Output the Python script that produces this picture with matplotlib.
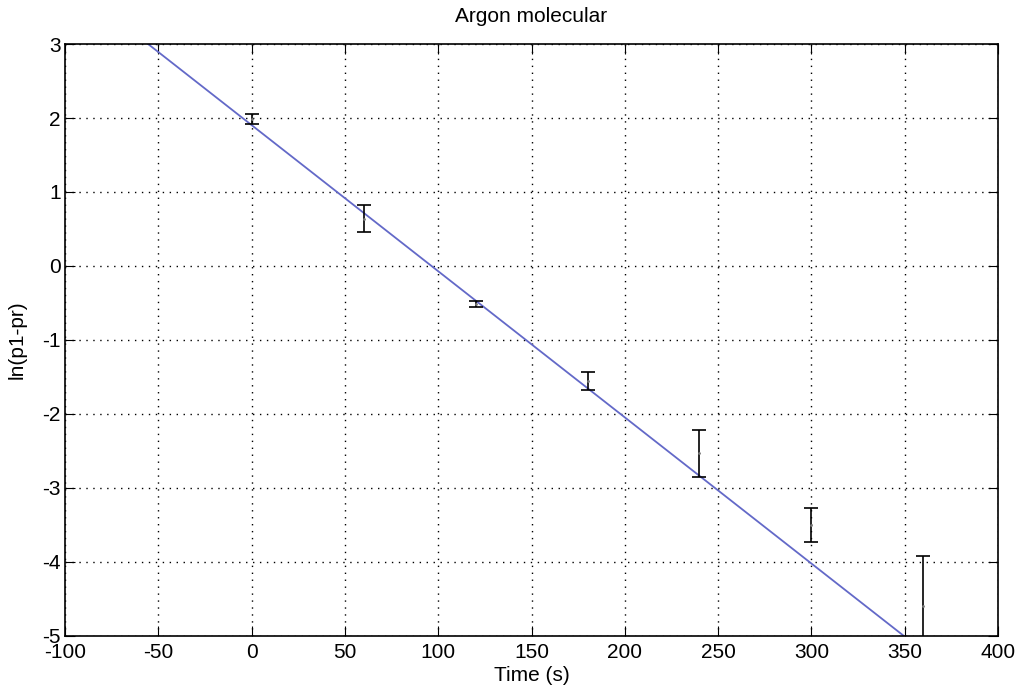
import matplotlib
matplotlib.use("Agg")
import matplotlib.pyplot as plt

plt.rcParams['font.family'] = ['Liberation Sans', 'DejaVu Sans']
plt.rcParams['axes.unicode_minus'] = False

# Measured points (time in s, ln(p1-pr), error)
time_s = [0, 60, 120, 180, 240, 300, 360]
ln_vals = [1.99, 0.64, -0.51, -1.55, -2.53, -3.50, -4.60]
ln_err = [0.07, 0.18, 0.04, 0.12, 0.32, 0.23, 0.68]

# Fitted line endpoints
fit_x = [-100, 400]
fit_y = [3.0 + 44.5 * 0.01975, 3.0 - 455.5 * 0.01975]

x_ticks = list(range(-100, 401, 50))
y_ticks = list(range(-5, 4))

fig = plt.figure(figsize=(10.21, 6.93), dpi=100)
ax = fig.add_axes([0.0637, 0.0823, 0.9138, 0.8542])

ax.plot(fit_x, fit_y, color='#6369c8', lw=1.3, zorder=2)
ax.errorbar(time_s, ln_vals, yerr=ln_err, fmt='.', color='black', ecolor='black',
            markersize=2, mfc='#777777', mec='#777777',
            elinewidth=1.2, capsize=5, capthick=1.2, zorder=3)

ax.set_xlim(-100, 400)
ax.set_ylim(-5, 3)
ax.set_xticks(x_ticks)
ax.set_yticks(y_ticks)
ax.grid(True, color='black', linestyle=(0, (1, 4)), linewidth=1.0)
ax.tick_params(direction='in', top=True, right=True, length=7, labelsize=15)
ax.tick_params(axis='x', pad=5)
ax.tick_params(axis='y', pad=3)
for s in ax.spines.values():
    s.set_linewidth(1.2)

ax.set_title('Argon molecular', fontsize=15, pad=16)
ax.set_xlabel('Time (s)', fontsize=15)
ax.set_ylabel('ln(p1-pr)', fontsize=15)
ax.xaxis.set_label_coords(0.5, -0.05)
ax.yaxis.set_label_coords(-0.041, 0.5)

fig.savefig('out.png', dpi=100)
